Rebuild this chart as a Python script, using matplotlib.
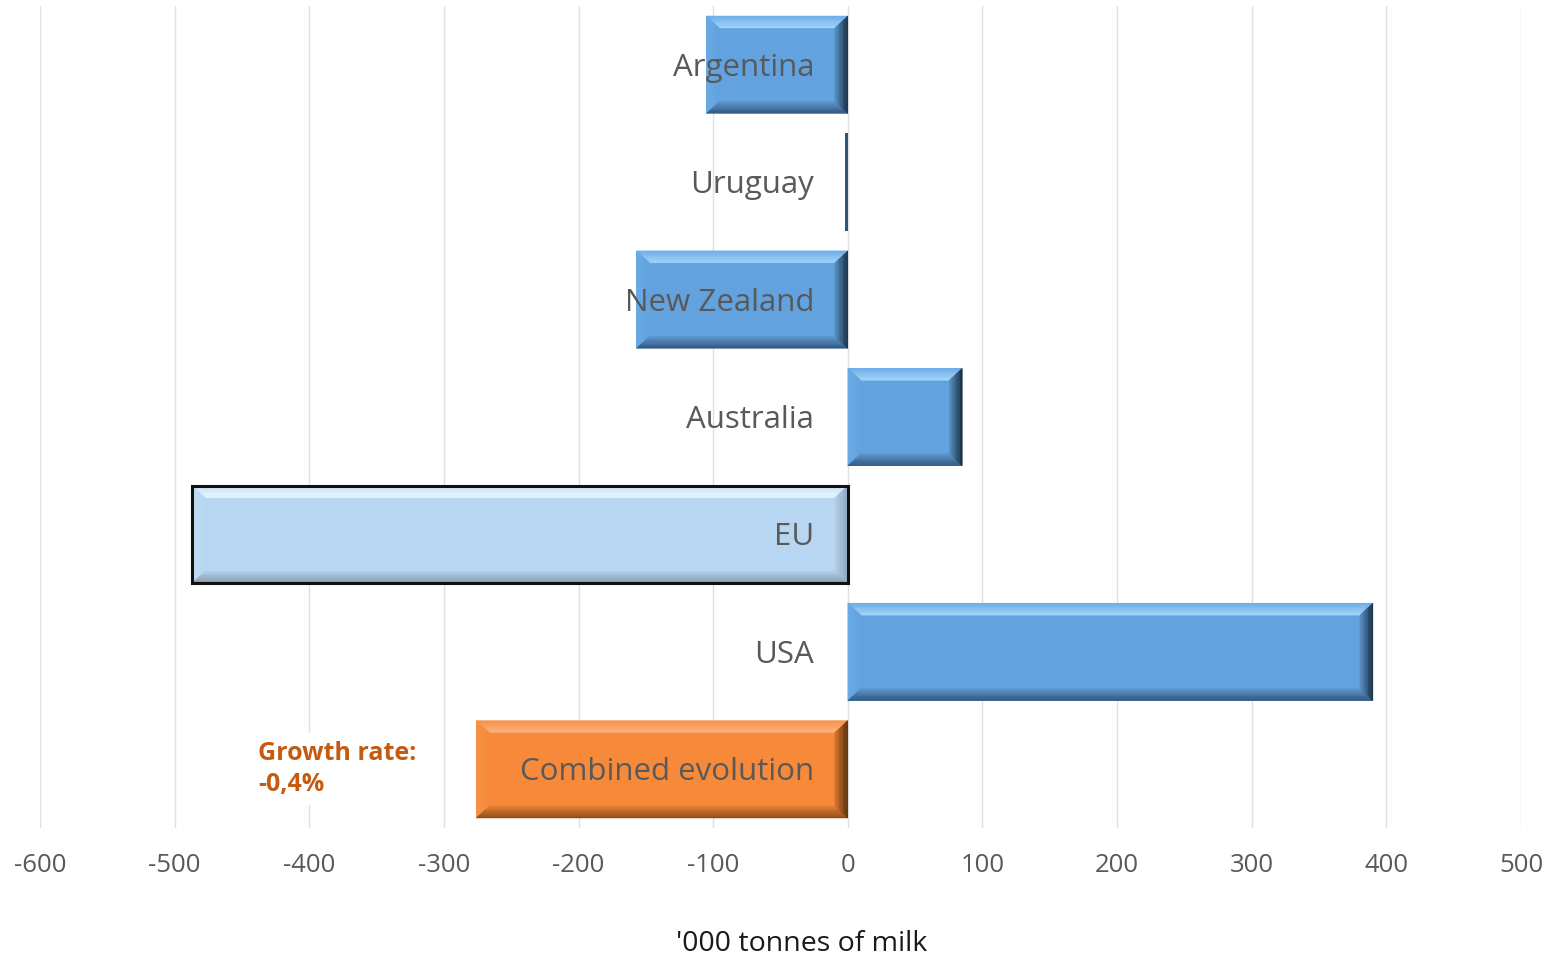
import numpy as np
import matplotlib.pyplot as plt
from matplotlib.patches import Polygon
from matplotlib.colors import to_rgb

plt.rcParams['font.family'] = ['Open Sans', 'DejaVu Sans']
plt.rcParams['axes.unicode_minus'] = False

# milk deliveries, change vs previous year ('000 t)
countries = ['Argentina', 'Uruguay', 'New Zealand', 'Australia', 'EU', 'USA', 'Combined evolution']
change = [-105, -2, -157, 85, -487, 390, -276]
growth_note = 'Growth rate:\n-0,4%'
xticks = np.arange(-600, 501, 100)

blue = '#61a2df'
light_blue = '#b8d6f1'
orange = '#f68a3a'
bar_colors = [blue, blue, blue, blue, light_blue, blue, orange]

# bevel shades: (top outer, top inner, left, right outer, right inner, bottom outer, bottom inner)
shades = {
    blue: ('#6eaee8', '#a6d6fb', '#6dade6', '#16293b', '#5991c4', '#2f5478', '#5d98d0'),
    light_blue: ('#c9e2f8', '#eaf7ff', '#c4def5', '#8aa4bb', '#b4d1ea', '#8596a4', '#b2cee8'),
    orange: ('#f7924a', '#fbb582', '#f79347', '#4f2a0c', '#d8762e', '#8a4714', '#e58036'),
}

fig = plt.figure(figsize=(15.52, 9.56), dpi=100)
ax = fig.add_axes([40 / 1552, 128 / 956, 1481 / 1552, 822 / 956])

ypos = np.arange(len(countries))
bar_h = 0.83
bars = ax.barh(ypos, change, height=bar_h, color=bar_colors, zorder=2)

ax.set_xlim(-600, 500)
ax.set_ylim(len(countries) - 0.5, -0.5)

# pixel -> data units
px_x = 1100 / 1481
px_y = 7 / 822


def lerp(c1, c2, t):
    a, b = np.array(to_rgb(c1)), np.array(to_rgb(c2))
    return a + (b - a) * t


def bevel_side(outer, inner, c_out, c_in, n=10):
    # shade a bevel trapezoid from its outer edge towards the inner edge
    outer, inner = np.array(outer), np.array(inner)
    for k in range(n):
        t0, t1 = k / n, (k + 1) / n
        p0 = outer + (inner - outer) * t0
        p1 = outer + (inner - outer) * t1
        poly = [p0[0], p0[1], p1[1], p1[0]]
        ax.add_patch(Polygon(poly, closed=True, fc=lerp(c_out, c_in, (t0 + t1) / 2),
                             ec=lerp(c_out, c_in, (t0 + t1) / 2), lw=0.3, zorder=3))


for rect, col in zip(bars.patches, bar_colors):
    x0 = min(rect.get_x(), rect.get_x() + rect.get_width())
    x1 = max(rect.get_x(), rect.get_x() + rect.get_width())
    yt = rect.get_y()               # upper edge on screen (inverted axis)
    yb = rect.get_y() + rect.get_height()
    bx = 13 * px_x
    by = 12 * px_y
    if (x1 - x0) < 3 * bx:
        rect.set_facecolor('#2f5677')
        continue
    tout, tin, lft, rout, rin, bout, bin_ = shades[col]
    bevel_side([(x0, yt), (x1, yt)], [(x0 + bx, yt + by), (x1 - bx, yt + by)], tout, tin)
    bevel_side([(x0, yt), (x0, yb)], [(x0 + bx, yt + by), (x0 + bx, yb - by)], lft, col)
    bevel_side([(x0, yb), (x1, yb)], [(x0 + bx, yb - by), (x1 - bx, yb - by)], bout, bin_)
    bevel_side([(x1, yt), (x1, yb)], [(x1 - bx, yt + by), (x1 - bx, yb - by)], rout, rin)

# EU bar carries a dark outline
eu = bars.patches[countries.index('EU')]
ax.add_patch(plt.Rectangle((eu.get_x(), eu.get_y()), eu.get_width(), eu.get_height(),
                           fill=False, ec='#111111', lw=2.2, zorder=4))

for y, name in zip(ypos, countries):
    ax.text(-25, y + 0.025, name, ha='right', va='center', fontsize=22.5,
            color='#595959', zorder=5)

ax.text(-438, ypos[-1], growth_note, ha='left', va='center', fontsize=18,
        fontweight='bold', color='#c55a11', linespacing=1.3, zorder=5,
        bbox=dict(fc='white', ec='none', pad=6))

ax.set_xticks(xticks)
ax.set_yticks([])
ax.tick_params(axis='x', length=0, pad=18, labelsize=18.5, labelcolor='#595959')
ax.grid(axis='x', color='#e0e0e0', lw=1.0, zorder=0)
ax.set_axisbelow(True)
for s in ax.spines.values():
    s.set_visible(False)

ax.set_xlabel("'000 tonnes of milk", fontsize=20.5, color='#1a1a1a')
ax.xaxis.set_label_coords((802 - 40) / 1481, (828 - 944) / 822)
ax.xaxis.label.set_va('center')

fig.savefig('out.png', dpi=100, facecolor='white')
